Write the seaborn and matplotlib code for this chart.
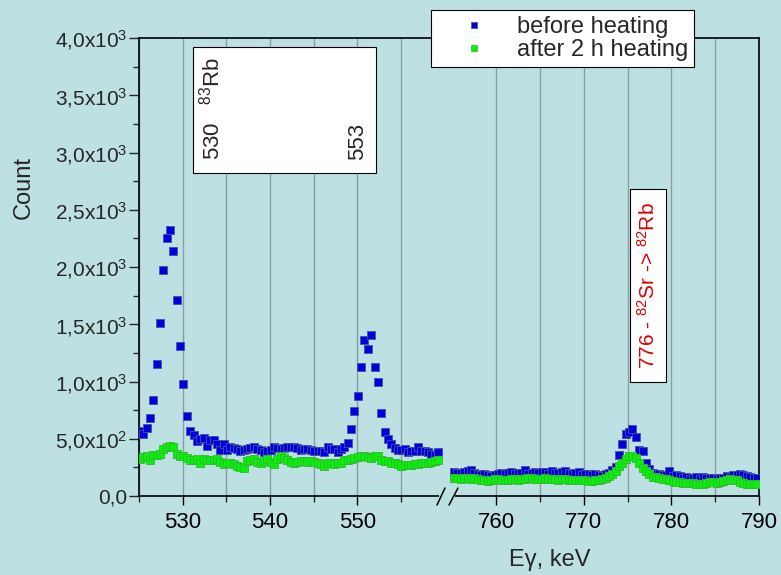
import numpy as np
import pandas as pd
import matplotlib
matplotlib.use('Agg')
import matplotlib.pyplot as plt
import seaborn as sns
from matplotlib.ticker import FixedLocator, FuncFormatter
from matplotlib.patches import Rectangle
from matplotlib.lines import Line2D

# channel grid of the spectrum (keV)
left_start = 525.1
right_start = 755.2
channel = 0.384

# counts, 525-560 keV part
before_left = [570, 545, 590, 680, 840, 1150, 1510, 1970, 2250, 2320,
               2140, 1710, 1310, 980, 700, 565, 530, 482, 495, 506,
               438, 488, 488, 453, 401, 453, 401, 424, 415, 410,
               395, 401, 409, 415, 424, 410, 401, 380, 389, 400,
               424, 415, 409, 420, 430, 425, 424, 420, 401, 409,
               409, 405, 395, 390, 395, 380, 428, 410, 409, 380,
               409, 424, 459, 585, 740, 871, 1128, 1365, 1283, 1406,
               1131, 994, 722, 555, 494, 453, 418, 405, 401, 409,
               380, 390, 395, 430, 395, 390, 380, 370, 360, 380]
after_left = [322, 340, 351, 313, 357, 357, 368, 409, 424, 439,
              424, 368, 351, 345, 336, 313, 318, 322, 292, 322,
              315, 313, 318, 322, 300, 278, 285, 292, 280, 263,
              255, 246, 307, 315, 322, 300, 286, 305, 322, 300,
              278, 320, 351, 330, 313, 300, 292, 300, 307, 305,
              300, 307, 300, 292, 280, 263, 292, 285, 278, 285,
              292, 313, 318, 322, 336, 342, 345, 351, 340, 330,
              345, 351, 313, 305, 302, 292, 285, 278, 263, 268,
              272, 275, 278, 280, 284, 288, 292, 300, 307, 313]

# 755-790 keV part
before_right = [210, 205, 200, 210, 215, 225, 200, 196, 187, 190,
                187, 178, 187, 195, 205, 196, 200, 210, 196, 200,
                205, 228, 196, 205, 213, 205, 210, 213, 196, 219,
                205, 205, 210, 219, 205, 196, 205, 210, 187, 196,
                190, 187, 196, 185, 178, 190, 205, 230, 250, 357,
                453, 544, 561, 585, 511, 405, 392, 290, 240, 204,
                195, 190, 181, 185, 219, 175, 180, 175, 160, 165,
                152, 160, 169, 152, 169, 160, 160, 155, 152, 158,
                160, 175, 170, 181, 185, 190, 181, 175, 169, 160,
                155]
after_right = [155, 160, 152, 158, 160, 149, 155, 150, 143, 137,
               135, 143, 149, 145, 143, 137, 140, 149, 145, 143,
               152, 149, 155, 160, 152, 149, 152, 155, 149, 152,
               152, 143, 149, 149, 143, 140, 137, 143, 140, 137,
               131, 135, 143, 137, 149, 160, 175, 195, 219, 263,
               292, 327, 351, 345, 330, 292, 248, 219, 190, 169,
               165, 160, 146, 146, 140, 132, 123, 120, 117, 111,
               115, 117, 102, 105, 102, 117, 120, 123, 117, 125,
               132, 140, 146, 143, 140, 123, 110, 102, 105, 102,
               102]

series_names = ['before heating', 'after 2 h heating']
colors = {'before heating': '#0000dc', 'after 2 h heating': '#0af00a'}
edges = {'before heating': '#4650a8', 'after 2 h heating': '#30b830'}

y_ticks = [0, 500, 1000, 1500, 2000, 2500, 3000, 3500, 4000]
left_major = [530, 540, 550]
left_minor = [525, 535, 545, 555]
right_major = [760, 770, 780, 790]
right_minor = [765, 775, 785]

# build the table
e_left = left_start + channel * np.arange(len(before_left))
e_right = right_start + channel * np.arange(len(before_right))
frames = []
for part, e, b, a in [('left', e_left, before_left, after_left),
                      ('right', e_right, before_right, after_right)]:
    frames.append(pd.DataFrame({'E': e, 'Count': b, 'series': series_names[0], 'part': part}))
    frames.append(pd.DataFrame({'E': e, 'Count': a, 'series': series_names[1], 'part': part}))
df = pd.concat(frames, ignore_index=True)

sns.set_theme(style='ticks')
plt.rcParams['font.family'] = ['Liberation Sans', 'DejaVu Sans']
plt.rcParams['mathtext.default'] = 'regular'

bg = '#bde0e3'
W, H = 781, 575


def fx(px):
    return px / W


def fy(py):
    return 1 - py / H


fig = plt.figure(figsize=(W / 100, H / 100), dpi=100, facecolor=bg)
ax1 = fig.add_axes([fx(139), fy(496), (448 - 139) / W, (496 - 38) / H])
ax2 = fig.add_axes([fx(448), fy(496), (759 - 448) / W, (496 - 38) / H])

for ax, part in [(ax1, 'left'), (ax2, 'right')]:
    sub = df[df['part'] == part]
    for name in series_names:
        sns.scatterplot(data=sub[sub['series'] == name], x='E', y='Count',
                        color=colors[name], marker='s', s=27,
                        edgecolor=edges[name], linewidth=0.6, ax=ax, legend=False, zorder=3)
    ax.set_facecolor(bg)
    ax.set_axisbelow(True)
    ax.set_xlabel('')
    ax.set_ylabel('')
    ax.set_ylim(0, 4000)
    ax.grid(True, axis='x', which='both', color='#8d9c9e', lw=1)
    ax.tick_params(axis='x', which='major', direction='out', length=6.5, width=1,
                   pad=5, labelsize=16, bottom=True, top=False, colors='black')
    ax.tick_params(axis='x', which='minor', direction='out', length=4.5, width=1,
                   bottom=True, top=False)
    for s in ax.spines.values():
        s.set_color('black')
        s.set_linewidth(1.2)

ax1.set_xlim(525, 560.4)
ax2.set_xlim(754.5, 790)
ax1.xaxis.set_major_locator(FixedLocator(left_major))
ax1.xaxis.set_minor_locator(FixedLocator(left_minor))
ax2.xaxis.set_major_locator(FixedLocator(right_major))
ax2.xaxis.set_minor_locator(FixedLocator(right_minor))
ax1.spines['right'].set_visible(False)
ax2.spines['left'].set_visible(False)


def ylab(v, pos):
    if v == 0:
        return '0,0'
    if v < 1000:
        return ('%.1f' % (v / 100)).replace('.', ',') + 'x10$^2$'
    return ('%.1f' % (v / 1000)).replace('.', ',') + 'x10$^3$'


ax1.yaxis.set_major_locator(FixedLocator(y_ticks))
ax1.yaxis.set_minor_locator(FixedLocator([t + 250 for t in y_ticks[:-1]]))
ax1.yaxis.set_major_formatter(FuncFormatter(ylab))
ax1.tick_params(axis='y', which='major', direction='out', length=7, width=1,
                pad=1.5, labelsize=15, left=True, right=False)
ax1.tick_params(axis='y', which='minor', direction='out', length=4.5, width=1,
                left=True, right=False)
ax2.tick_params(axis='y', which='both', left=False, right=False, labelleft=False)

# axis titles
fig.text(fx(24), fy(187), 'Count', rotation=90, ha='center', va='center', fontsize=17)
fig.text(fx(550), fy(560), 'E\u03b3, keV', ha='center', va='center', fontsize=17)

# axis break
fig.add_artist(Line2D([fx(441), fx(453)], [fy(496), fy(496)], color=bg, lw=3,
                      transform=fig.transFigure))
for x0, x1 in [(437, 445), (449, 458)]:
    fig.add_artist(Line2D([fx(x0), fx(x1)], [fy(505), fy(488)], color='black', lw=1.1,
                          transform=fig.transFigure))

# annotation boxes
fig.add_artist(Rectangle((fx(193), fy(173)), (376 - 193) / W, (173 - 47) / H,
                         transform=fig.transFigure, facecolor='white',
                         edgecolor='black', lw=0.8, zorder=3))
fig.text(fx(212), fy(160), '530   $^{83}$Rb', rotation=90, ha='center', va='bottom',
         fontsize=16, zorder=4)
fig.text(fx(358), fy(160), '553', rotation=90, ha='center', va='bottom',
         fontsize=16, zorder=4)

fig.add_artist(Rectangle((fx(630), fy(382)), (666 - 630) / W, (382 - 189) / H,
                         transform=fig.transFigure, facecolor='white',
                         edgecolor='black', lw=0.8, zorder=3))
fig.text(fx(648), fy(286), '776 - $^{82}$Sr -> $^{82}$Rb', rotation=90, ha='center',
         va='center', fontsize=15, color='#e00000', zorder=4)

# legend
handles = [Line2D([], [], ls='', marker='s', markersize=4.5, color=colors[n],
                  markeredgecolor=edges[n], markeredgewidth=0.5) for n in series_names]
leg = fig.legend(handles, series_names, loc='upper left', bbox_to_anchor=(fx(431), fy(10)),
                 frameon=True, fancybox=False, edgecolor='black', facecolor='white',
                 framealpha=1, fontsize=17, handlelength=3.1, handletextpad=0.3,
                 borderpad=0.25, labelspacing=0.05, borderaxespad=0)
leg.get_frame().set_linewidth(0.8)

fig.savefig('out.png', dpi=100, facecolor=bg)
